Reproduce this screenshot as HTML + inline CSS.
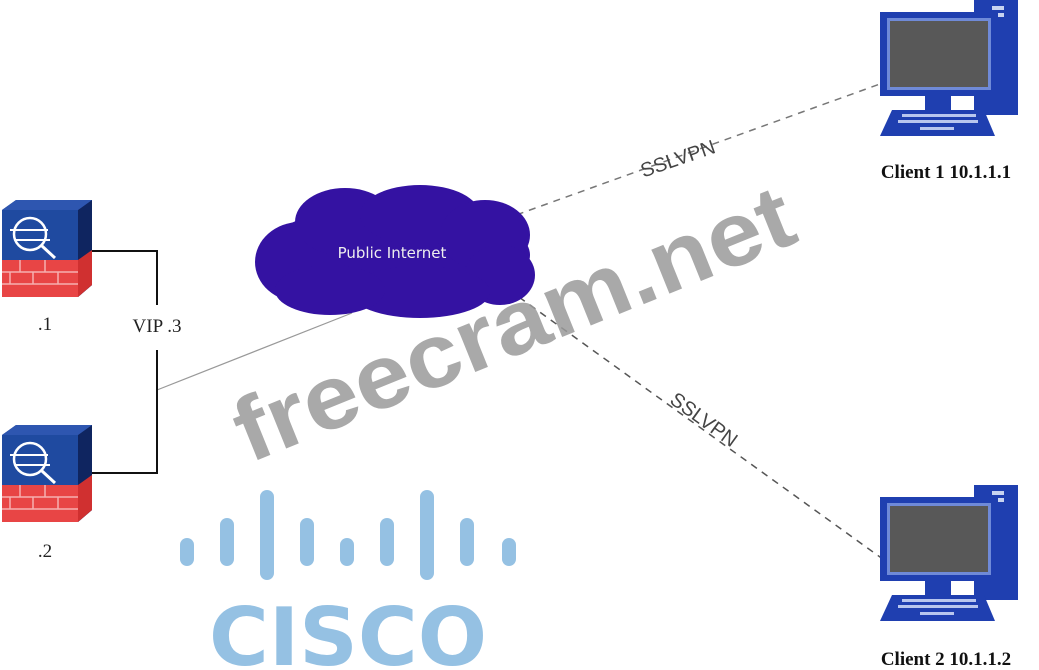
<!DOCTYPE html>
<html><head><meta charset="utf-8"><style>
body{margin:0;background:#fff;}
svg{display:block;}
</style></head><body>
<svg width="1039" height="670" viewBox="0 0 1039 670" xmlns="http://www.w3.org/2000/svg">
<defs>
<g id="pc">
  <rect x="94" y="0" width="44" height="115" fill="#1f3fb0"/>
  <rect x="112" y="6" width="12" height="4" fill="#c9d4f0"/>
  <rect x="112" y="13" width="12" height="4" fill="#c9d4f0"/>
  <rect x="0" y="12" width="118" height="84" fill="#1f3fb0"/>
  <rect x="7" y="18" width="104" height="72" fill="#6f8ad8"/>
  <rect x="10" y="21" width="98" height="66" fill="#585858"/>
  <rect x="45" y="96" width="26" height="14" fill="#1f3fb0"/>
  <polygon points="12,110 104,110 115,136 0,136" fill="#1f3fb0"/>
  <g fill="#b8c6ee">
    <rect x="22" y="114" width="74" height="3"/>
    <rect x="18" y="120" width="80" height="3"/>
    <rect x="40" y="127" width="34" height="3"/>
  </g>
</g>
<g id="fw">
  <polygon points="2,210 16,200 92,200 92,285 78,297 2,297" fill="#1a3a8a"/>
  <polygon points="78,210 92,200 92,285 78,297" fill="#0f2560"/>
  <polygon points="2,210 16,200 92,200 78,210" fill="#2e56b0"/>
  <rect x="2" y="210" width="76" height="50" fill="#1f4aa0"/>
  <rect x="2" y="260" width="76" height="37" fill="#e84545"/>
  <polygon points="78,260 92,250 92,285 78,297" fill="#d03030"/>
  <g stroke="#f6b0b0" stroke-width="1.5">
    <line x1="2" y1="272" x2="78" y2="272"/><line x1="2" y1="284" x2="78" y2="284"/>
    <line x1="20" y1="260" x2="20" y2="272"/><line x1="45" y1="260" x2="45" y2="272"/>
    <line x1="10" y1="272" x2="10" y2="284"/><line x1="33" y1="272" x2="33" y2="284"/><line x1="58" y1="272" x2="58" y2="284"/>
  </g>
  <circle cx="30" cy="234" r="16" fill="none" stroke="#fff" stroke-width="2.5"/>
  <line x1="10" y1="230" x2="48" y2="230" stroke="#fff" stroke-width="2"/>
  <line x1="15" y1="240" x2="50" y2="240" stroke="#fff" stroke-width="2"/>
  <line x1="42" y1="246" x2="55" y2="258" stroke="#fff" stroke-width="3"/>
</g>
</defs>

<line x1="480" y1="228" x2="880" y2="84" stroke="#777" stroke-width="1.5" stroke-dasharray="7,6"/>
<line x1="498" y1="282" x2="905" y2="575" stroke="#555" stroke-width="1.5" stroke-dasharray="7,6"/>
<line x1="157" y1="390" x2="352" y2="313" stroke="#999" stroke-width="1.2"/>
<polyline points="92,251 157,251 157,305" fill="none" stroke="#111" stroke-width="2"/>
<polyline points="157,350 157,473 92,473" fill="none" stroke="#111" stroke-width="2"/>

<g fill="#3412a2">
  <ellipse cx="395" cy="255" rx="135" ry="50"/>
  <ellipse cx="300" cy="262" rx="45" ry="40"/>
  <ellipse cx="345" cy="222" rx="50" ry="34"/>
  <ellipse cx="420" cy="215" rx="60" ry="30"/>
  <ellipse cx="485" cy="235" rx="45" ry="35"/>
  <ellipse cx="500" cy="275" rx="35" ry="30"/>
  <ellipse cx="420" cy="292" rx="70" ry="26"/>
  <ellipse cx="330" cy="290" rx="55" ry="25"/>
</g>
<text x="392" y="258" font-family="DejaVu Sans, sans-serif" font-size="15" fill="#eee" text-anchor="middle">Public Internet</text>

<use href="#fw"/>
<use href="#fw" transform="translate(0,225)"/>
<text x="45" y="330" font-family="Liberation Serif, serif" font-size="19" fill="#222" text-anchor="middle">.1</text>
<text x="45" y="557" font-family="Liberation Serif, serif" font-size="19" fill="#222" text-anchor="middle">.2</text>
<text x="157" y="332" font-family="Liberation Serif, serif" font-size="19" fill="#222" text-anchor="middle">VIP .3</text>

<use href="#pc" transform="translate(880,0)"/>
<use href="#pc" transform="translate(880,485)"/>
<text x="946" y="178" font-family="Liberation Serif, serif" font-weight="bold" font-size="19" fill="#111" text-anchor="middle">Client 1 10.1.1.1</text>
<text x="946" y="665" font-family="Liberation Serif, serif" font-weight="bold" font-size="19" fill="#111" text-anchor="middle">Client 2 10.1.1.2</text>

<text x="680" y="165" font-family="Liberation Sans, sans-serif" font-size="20" fill="#444" text-anchor="middle" transform="rotate(-19 680 165)">SSLVPN</text>
<text x="700" y="425" font-family="Liberation Sans, sans-serif" font-size="20" fill="#444" text-anchor="middle" transform="rotate(36 700 425)">SSLVPN</text>

<g stroke="#95c1e3" stroke-width="14" stroke-linecap="round">
  <line x1="187" y1="545" x2="187" y2="559"/>
  <line x1="227" y1="525" x2="227" y2="559"/>
  <line x1="267" y1="497" x2="267" y2="573"/>
  <line x1="307" y1="525" x2="307" y2="559"/>
  <line x1="347" y1="545" x2="347" y2="559"/>
  <line x1="387" y1="525" x2="387" y2="559"/>
  <line x1="427" y1="497" x2="427" y2="573"/>
  <line x1="467" y1="525" x2="467" y2="559"/>
  <line x1="509" y1="545" x2="509" y2="559"/>
</g>
<text x="348" y="665" font-family="DejaVu Sans, sans-serif" font-weight="bold" font-size="80" fill="#95c1e3" text-anchor="middle" textLength="278" lengthAdjust="spacingAndGlyphs">CISCO</text>

<text x="525" y="352" font-family="Liberation Sans, sans-serif" font-weight="bold" font-size="90" fill="#9a9a9a" fill-opacity="0.85" text-anchor="middle" textLength="595" lengthAdjust="spacingAndGlyphs" transform="rotate(-22 525 352)">freecram.net</text>
</svg>
</body></html>
